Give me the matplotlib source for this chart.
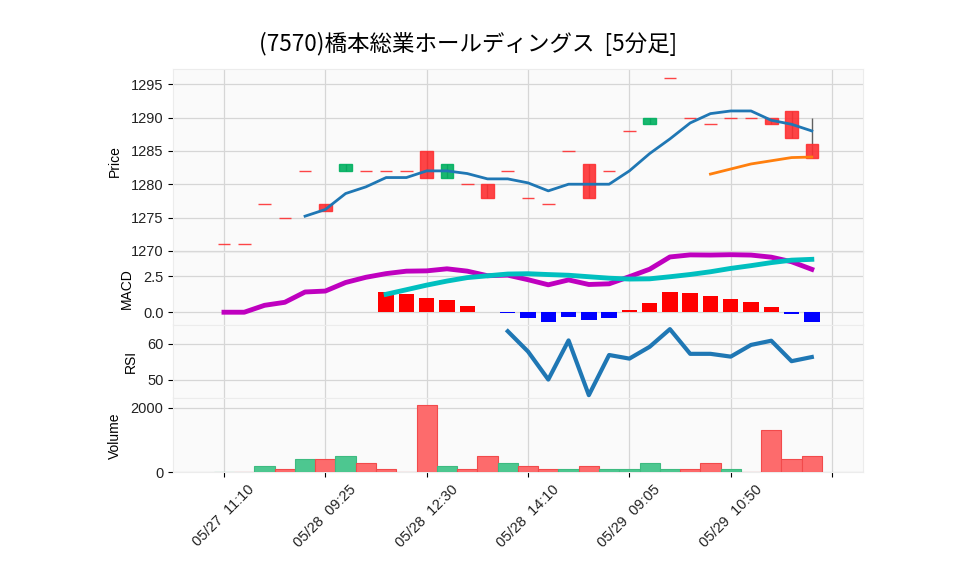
import numpy as np
import pandas as pd
import matplotlib
matplotlib.use("Agg")
import matplotlib.pyplot as plt
from matplotlib.ticker import FixedLocator, FixedFormatter

plt.rcParams['font.family'] = ['Liberation Sans', 'Noto Sans CJK JP', 'DejaVu Sans']

title = "(7570)橋本総業ホールディングス  [5分足]"

opens   = [1271, 1271, 1277, 1275, 1282, 1277, 1282, 1282, 1282, 1282,
           1285, 1281, 1280, 1280, 1282, 1278, 1277, 1285, 1283, 1282,
           1288, 1289, 1296, 1290, 1289, 1290, 1290, 1290, 1291, 1286]
closes  = [1271, 1271, 1277, 1275, 1282, 1276, 1283, 1282, 1282, 1282,
           1281, 1283, 1280, 1278, 1282, 1278, 1277, 1285, 1278, 1282,
           1288, 1290, 1296, 1290, 1289, 1290, 1290, 1289, 1287, 1284]
highs   = [1271, 1271, 1277, 1275, 1282, 1277, 1283, 1282, 1282, 1282,
           1285, 1283, 1280, 1280, 1282, 1278, 1277, 1285, 1283, 1282,
           1288, 1290, 1296, 1290, 1289, 1290, 1290, 1290, 1291, 1290]
lows    = [1271, 1271, 1277, 1275, 1282, 1276, 1282, 1282, 1282, 1282,
           1281, 1281, 1280, 1278, 1282, 1278, 1277, 1285, 1278, 1282,
           1288, 1289, 1296, 1290, 1289, 1290, 1290, 1289, 1287, 1284]
volumes = [0, 0, 200, 100, 400, 400, 500, 300, 100, 0,
           2100, 200, 100, 500, 300, 200, 100, 100, 200, 100,
           100, 300, 100, 100, 300, 100, 0, 1300, 400, 500]
tick_labels = ["05/27  11:10", "05/28  09:25", "05/28  12:30", "05/28  14:10",
               "05/29  09:05", "05/29  10:50", ""]

# colours (yahoo-like style)
UP, DOWN = '#00b060', '#fe3032'
VUP, VDOWN = '#4dc790', '#fd6b6c'
FACE = '#fafafa'
GRID = '#d6d6d6'

n = len(closes)
x = np.arange(n)
cl = pd.Series(closes, dtype=float)

ma5 = cl.rolling(5).mean()
ma25 = cl.rolling(25).mean()
ema12 = cl.ewm(span=12, adjust=False).mean()
ema26 = cl.ewm(span=26, adjust=False).mean()
macd = ema12 - ema26
signal = macd.rolling(9).mean()
hist = macd - signal
delta = cl.diff()
gain = delta.clip(lower=0).rolling(14).mean()
loss = (-delta.clip(upper=0)).rolling(14).mean()
rsi = 100 * gain / (gain + loss)

fig = plt.figure(figsize=(9.58, 5.75), dpi=100)
gs = fig.add_gridspec(4, 1, height_ratios=[183, 73, 73, 74], hspace=0,
                      left=173.3 / 958, right=863.3 / 958,
                      bottom=1 - 472.3 / 575, top=1 - 69 / 575)
ax_p = fig.add_subplot(gs[0])
ax_m = fig.add_subplot(gs[1], sharex=ax_p)
ax_r = fig.add_subplot(gs[2], sharex=ax_p)
ax_v = fig.add_subplot(gs[3], sharex=ax_p)
axes = [ax_p, ax_m, ax_r, ax_v]

for ax in axes:
    ax.set_facecolor(FACE)
    ax.grid(True, color=GRID, linewidth=0.9)
    ax.set_axisbelow(True)
    for s in ax.spines.values():
        s.set_color('#ececec')
        s.set_linewidth(0.8)
    ax.tick_params(axis='y', labelsize=10.5, length=3.5, width=0.8,
                   colors='black', labelcolor='#222222')
    ax.tick_params(axis='x', length=0, labelbottom=False)

# candles
cols = [UP if o < c else DOWN for o, c in zip(opens, closes)]
ax_p.vlines(x, lows, highs, color='#606060', linewidth=1.0, zorder=2)
bottoms = [min(o, c) for o, c in zip(opens, closes)]
heights = [abs(c - o) for o, c in zip(opens, closes)]
ax_p.bar(x, heights, bottom=bottoms, width=0.62, color=cols, edgecolor=cols,
         linewidth=1.0, alpha=0.9, zorder=3)
ax_p.plot(x, ma5, color='#1f77b4', linewidth=2.0, zorder=4)
ax_p.plot(x, ma25, color='#ff7f0e', linewidth=2.0, zorder=4)
ax_p.set_ylim(1269.8, 1297.3)
ax_p.yaxis.set_major_locator(FixedLocator([1270, 1275, 1280, 1285, 1290, 1295]))
ax_p.set_ylabel('Price', fontsize=10, labelpad=6.5)

# MACD
hcols = ['#ff0000' if h >= 0 else '#0000ff' for h in hist.fillna(0)]
ax_m.bar(x, hist, width=0.76, color=hcols, zorder=3)
ax_m.plot(x, macd, color='#bf00bf', linewidth=3.5, zorder=4)
ax_m.plot(x, signal, color='#00bfbf', linewidth=3.5, zorder=4)
ax_m.set_ylim(-0.9, 4.17)
ax_m.yaxis.set_major_locator(FixedLocator([0.0, 2.5]))
ax_m.yaxis.set_major_formatter(FixedFormatter(['0.0', '2.5']))
ax_m.set_ylabel('MACD', fontsize=10, labelpad=6.5)

# RSI
ax_r.plot(x, rsi, color='#1f77b4', linewidth=3.0, zorder=4)
ax_r.set_ylim(44.8, 65.1)
ax_r.yaxis.set_major_locator(FixedLocator([50, 60]))
ax_r.set_ylabel('RSI', fontsize=10, labelpad=6.5)

# Volume
vcols = [VUP] + [VUP if p < c else VDOWN for p, c in zip(closes[:-1], closes[1:])]
vedge = ['#3dbb80' if c == VUP else '#f24a4b' for c in vcols]
ax_v.bar(x, volumes, width=1.0, color=vcols, edgecolor=vedge, linewidth=0.8,
         zorder=3)
ax_v.set_ylim(0, 2300)
ax_v.yaxis.set_major_locator(FixedLocator([0, 2000]))
ax_v.set_ylabel('Volume', fontsize=10, labelpad=6.5)

ax_v.set_xlim(-2.5, 31.54)
ax_v.xaxis.set_major_locator(FixedLocator(list(range(0, 31, 5))))
ax_v.xaxis.set_major_formatter(FixedFormatter(tick_labels))
ax_v.tick_params(axis='x', length=3.5, width=0.8, labelbottom=True,
                 labelsize=10.5, labelcolor='#222222')
for lab in ax_v.get_xticklabels():
    lab.set_rotation(45)
    lab.set_ha('center')

fig.text(468.5 / 958, 1 - 44 / 575, title, fontsize=16.2, ha='center', va='center',
         family=['Noto Sans CJK JP', 'DejaVu Sans'])

fig.savefig('out.png', dpi=100, facecolor='white')
